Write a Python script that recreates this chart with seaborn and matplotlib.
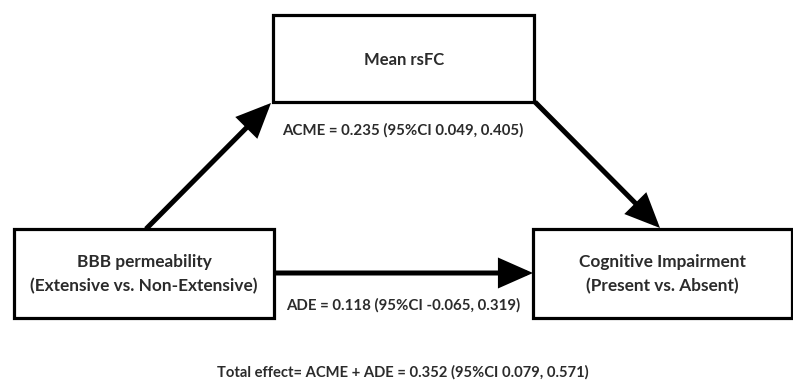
import matplotlib
matplotlib.use("Agg")
import matplotlib.pyplot as plt
from matplotlib.patches import Rectangle, FancyArrowPatch
import seaborn as sns

# ---- data ----
node_names = ["BBB permeability", "Mean rsFC", "Cognitive Impairment"]
node_subtitles = ["(Extensive vs. Non-Extensive)", "", "(Present vs. Absent)"]
effect_names = ["ACME", "ADE"]
effect_estimates = [0.235, 0.118]
effect_ci_low = [0.049, -0.065]
effect_ci_high = [0.405, 0.319]
total_estimate = 0.352
total_ci = [0.079, 0.571]

# ---- style ----
sns.set_theme(style="white")
plt.rcParams['font.family'] = ['Lato', 'DejaVu Sans']
TEXT_COLOR = "#2b2b2b"

fig = plt.figure(figsize=(7.93, 3.92), dpi=100)
ax = fig.add_axes([0, 0, 1, 1])
ax.set_xlim(0, 793)
ax.set_ylim(392, 0)
ax.axis("off")

# layout (pixel coordinates): x0, y0, x1, y1
boxes = [(14, 229, 274, 318), (273, 15, 534, 102), (533, 229, 792, 318)]

for (x0, y0, x1, y1), name, sub in zip(boxes, node_names, node_subtitles):
    ax.add_patch(Rectangle((x0, y0), x1 - x0, y1 - y0, fill=False,
                           ec="black", lw=2.3, joinstyle="miter"))
    cx = (x0 + x1) / 2
    if sub:
        ax.text(cx, 262, name, ha="center", va="center", fontsize=12.4,
                fontweight="bold", color=TEXT_COLOR)
        ax.text(cx, 286, sub, ha="center", va="center", fontsize=12.4,
                fontweight="bold", color=TEXT_COLOR)
    else:
        ax.text(cx + 1, 60, name, ha="center", va="center", fontsize=12,
                fontweight="bold", color=TEXT_COLOR)

def arrow(p0, p1):
    a = FancyArrowPatch(p0, p1, arrowstyle="-|>,head_length=0.95,head_width=0.42",
                        mutation_scale=20, lw=3.6, color="black",
                        shrinkA=0, shrinkB=0, joinstyle="miter", capstyle="butt")
    ax.add_patch(a)

arrow((146, 229), (271, 103))
arrow((535, 102), (660, 228))
arrow((274, 273), (533, 273))

label_pos = [(403, 130), (403, 305)]
for name, est, lo, hi, (x, y) in zip(effect_names, effect_estimates,
                                     effect_ci_low, effect_ci_high, label_pos):
    ax.text(x, y, f"{name} = {est:.3f} (95%CI {lo:.3f}, {hi:.3f})",
            ha="center", va="center", fontsize=10.8, fontweight="bold",
            color=TEXT_COLOR)

ax.text(403, 372,
        f"Total effect= {effect_names[0]} + {effect_names[1]} = {total_estimate:.3f} "
        f"(95%CI {total_ci[0]:.3f}, {total_ci[1]:.3f})",
        ha="center", va="center", fontsize=10.6, fontweight="bold",
        color=TEXT_COLOR)

fig.savefig("out.png", dpi=100, facecolor="white")
